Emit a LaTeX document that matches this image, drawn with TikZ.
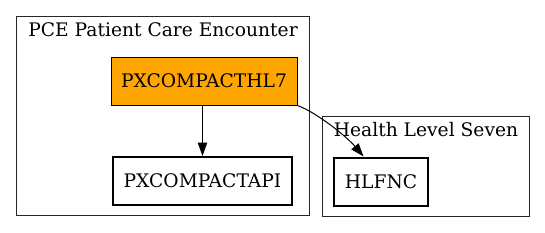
\documentclass[tikz,border=0pt]{standalone}
\usepackage{fontspec}
\setmainfont{DejaVu Serif}
\usepackage{tikz}
\usetikzlibrary{positioning,arrows.meta}
\definecolor{HLOrange}{HTML}{FFA500}
\tikzset{
  cluster/.style={draw=black!85,line width=0.75pt,inner sep=0pt},
  cltitle/.style={font=\fontsize{14}{16}\selectfont,inner sep=0pt},
  hlnode/.style={draw=black,fill=HLOrange,line width=0.75pt,
    minimum height=36pt,inner sep=0pt,font=\fontsize{14}{16}\selectfont},
  apinode/.style={draw=black,fill=white,line width=1.5pt,
    minimum height=36pt,inner sep=0pt,font=\fontsize{14}{16}\selectfont},
  dep/.style={line width=0.75pt,-{Triangle[length=10pt,width=7pt]}},
}
\begin{document}
\begin{tikzpicture}[x=0.75pt,y=-0.75pt]
  \useasboundingbox (0,0) rectangle (545,232);
  % clusters
  \node[cluster,minimum width=219.75pt,minimum height=149.25pt] (pce) at (162.5,115.5) {};
  \node[cltitle] (pcet) at (163,30) {PCE Patient Care Encounter};
  \node[cluster,minimum width=155.25pt,minimum height=75pt] (hls) at (425.5,166) {};
  \node[cltitle] (hlst) at (426,130) {Health Level Seven};
  % routines
  \node[hlnode,minimum width=139.5pt] (hl7) at (204,81) {PXCOMPACTHL7};
  \node[apinode,minimum width=134pt] (api) at (202.5,181) {PXCOMPACTAPI};
  \node[apinode,minimum width=70.5pt] (hlfnc) at (381,181.5) {HLFNC};
  % calls
  \draw[dep] (hl7.south-|api.north) -- (api.north);
  \draw[dep] (hl7.south east) .. controls (318,113) and (348,138) .. (hlfnc.125);
\end{tikzpicture}
\end{document}
